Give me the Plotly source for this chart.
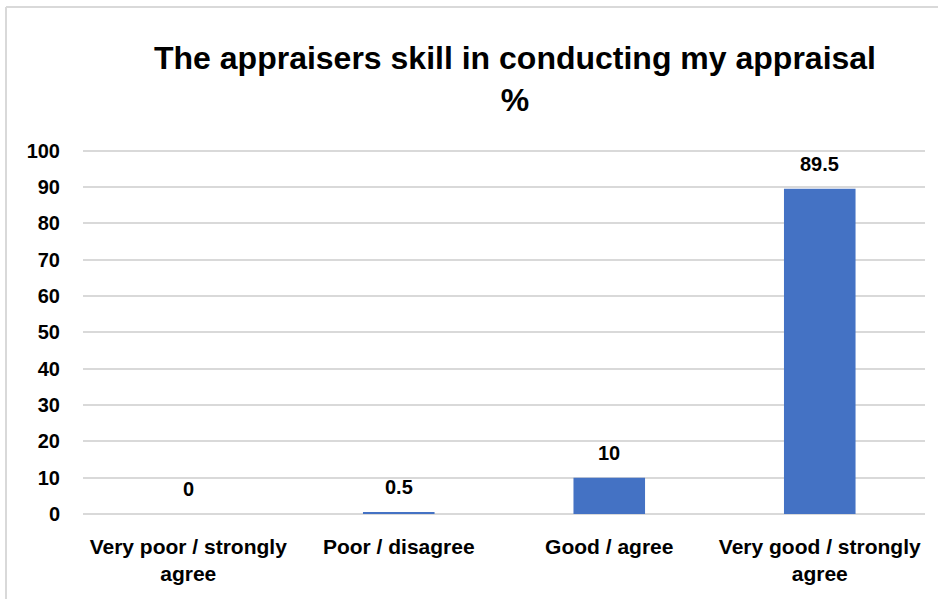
import plotly.graph_objects as go

# Survey responses (% of respondents)
categories = ["Very poor / strongly<br>agree", "Poor / disagree", "Good / agree", "Very good / strongly<br>agree"]
percentages = [0, 0.5, 10, 89.5]
y_ticks = [0, 10, 20, 30, 40, 50, 60, 70, 80, 90, 100]

FONT = "Liberation Sans, Arial, sans-serif"
BAR_BLUE = "#4472C4"
GRID = "#D9D9D9"

fig = go.Figure(
    go.Bar(
        x=categories,
        y=percentages,
        marker=dict(color=BAR_BLUE, line=dict(width=0)),
        width=0.34,
        hoverinfo="x+y",
    )
)

# Value labels above each bar
for cat, val in zip(categories, percentages):
    fig.add_annotation(
        x=cat, y=val, xref="x", yref="y",
        text=f"<b>{val:g}</b>",
        showarrow=False,
        yanchor="middle",
        yshift=25,
        font=dict(family=FONT, size=20, color="#000000"),
    )

fig.update_layout(
    width=938,
    height=599,
    margin=dict(l=83, r=13, t=147, b=85),
    paper_bgcolor="white",
    plot_bgcolor="white",
    showlegend=False,
    font=dict(family=FONT, color="#000000"),
    title=dict(
        text="<b>The appraisers skill in conducting my appraisal<br>%</b>",
        x=515 / 938,
        xanchor="center",
        y=1 - 69 / 599,
        yanchor="top",
        font=dict(family=FONT, size=32, color="#000000"),
    ),
    xaxis=dict(
        tickfont=dict(family=FONT, size=21, color="#000000"),
        showgrid=False,
        showline=False,
        ticks="",
        tickprefix="<b>",
        ticksuffix="</b>",
        ticklabelstandoff=18,
    ),
    yaxis=dict(
        range=[0, 101],
        tickvals=y_ticks,
        ticktext=[f"<b>{t}</b>" for t in y_ticks],
        tickfont=dict(family=FONT, size=20, color="#000000"),
        showgrid=True,
        gridcolor=GRID,
        gridwidth=1.5,
        zeroline=True,
        zerolinecolor=GRID,
        zerolinewidth=1.5,
        showline=False,
        ticks="",
        ticklabelstandoff=22,
    ),
    bargap=0.66,
)

# Chart-area outline (left and top edges)
fig.add_shape(type="line", xref="paper", yref="paper",
              x0=(6 - 83) / 842, x1=(6 - 83) / 842,
              y0=-(620 - 514) / 367, y1=1 + (147 - 7) / 367,
              line=dict(color=GRID, width=2))
fig.add_shape(type="line", xref="paper", yref="paper",
              x0=(6 - 83) / 842, x1=(950 - 83) / 842,
              y0=1 + (147 - 7) / 367, y1=1 + (147 - 7) / 367,
              line=dict(color=GRID, width=2))

fig.write_html("out.html")
